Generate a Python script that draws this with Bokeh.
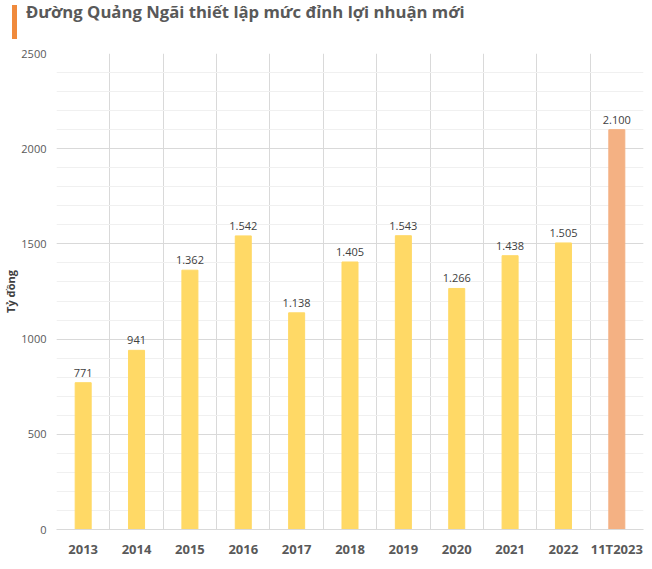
from bokeh.plotting import figure
from bokeh.models import ColumnDataSource, FixedTicker, SingleIntervalTicker, Range1d, LabelSet, Div
from bokeh.layouts import column
from bokeh.core.properties import value
from bokeh.embed import file_html
from bokeh.resources import INLINE

categories = ["2013", "2014", "2015", "2016", "2017", "2018", "2019", "2020", "2021", "2022", "11T2023"]
profits = [771, 941, 1362, 1542, 1138, 1405, 1543, 1266, 1438, 1505, 2100]
bar_colors = ["#FFD966"] * 10 + ["#F4B183"]
title_text = "Đường Quảng Ngãi thiết lập mức đỉnh lợi nhuận mới"

idx = list(range(len(categories)))
labels = [f"{v:,}".replace(",", ".") for v in profits]
src = ColumnDataSource(dict(x=idx, y=profits, color=bar_colors, label=labels))

header = Div(text=title_text, width=644, height=34,
             styles={"border-left": "5px solid #F08A3C", "margin-left": "12px",
                     "padding-left": "9px", "font-family": "Open Sans",
                     "font-size": "16.7px", "font-weight": "bold", "color": "#595959",
                     "line-height": "14px", "box-sizing": "border-box", "padding-top": "0px"})

p = figure(width=644, height=517, output_backend="svg", toolbar_location=None,
           x_range=Range1d(-0.5, len(categories) - 0.5), y_range=Range1d(0, 2500),
           min_border_left=48, min_border_right=1, min_border_bottom=32, min_border_top=9)

p.vbar(x="x", top="y", width=0.3, color="color", source=src)

p.add_layout(LabelSet(x="x", y="y", text="label", source=src, y_offset=6,
                      text_align="center", text_baseline="bottom",
                      text_font=value("Open Sans"), text_font_size="11px", text_color="#404040"))

p.outline_line_color = None
p.background_fill_color = "white"

# y axis
p.yaxis.ticker = SingleIntervalTicker(interval=500, num_minor_ticks=5)
p.yaxis.axis_line_color = None
p.yaxis.major_tick_out = 0
p.yaxis.minor_tick_out = 0
p.yaxis.major_tick_line_color = None
p.yaxis.minor_tick_line_color = None
p.yaxis.major_label_standoff = 10
p.yaxis.major_label_text_font = "Open Sans"
p.yaxis.major_label_text_font_size = "11px"
p.yaxis.major_label_text_color = "#595959"
p.yaxis.axis_label = "Tỷ đồng"
p.yaxis.axis_label_text_font = "Open Sans"
p.yaxis.axis_label_text_font_size = "11px"
p.yaxis.axis_label_text_font_style = "bold"
p.yaxis.axis_label_text_color = "#404040"
p.yaxis.axis_label_standoff = 0

p.ygrid.grid_line_color = "#D9D9D9"
p.ygrid.minor_grid_line_color = "#F0F0F0"

# x axis
p.xaxis.ticker = FixedTicker(ticks=idx)
p.xaxis.major_label_overrides = {i: c for i, c in zip(idx, categories)}
p.xaxis.axis_line_color = "#D9D9D9"
p.xaxis.major_tick_out = 0
p.xaxis.minor_tick_out = 0
p.xaxis.major_tick_line_color = None
p.xaxis.minor_tick_line_color = None
p.xaxis.major_label_standoff = 10
p.xaxis.major_label_text_font = "Open Sans"
p.xaxis.major_label_text_font_size = "13px"
p.xaxis.major_label_text_font_style = "bold"
p.xaxis.major_label_text_color = "#595959"

p.xgrid.ticker = FixedTicker(ticks=[i - 0.5 for i in range(len(categories) + 1)])
p.xgrid.grid_line_color = "#D9D9D9"

layout = column(header, p, spacing=0)
open("out.html", "w").write(file_html(layout, INLINE))
